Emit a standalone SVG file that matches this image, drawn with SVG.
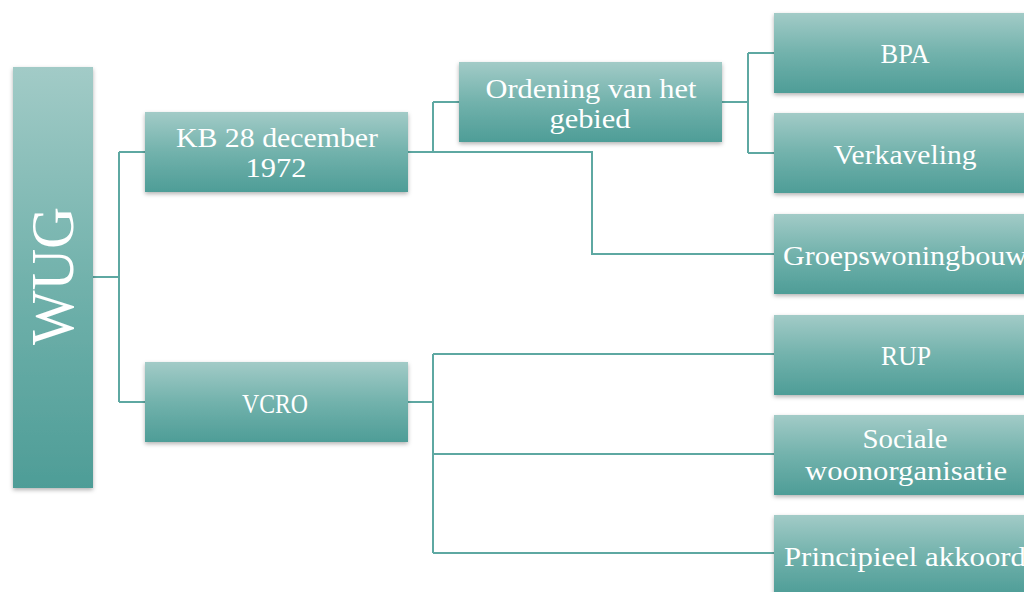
<svg xmlns="http://www.w3.org/2000/svg" width="1024" height="592" viewBox="0 0 1024 592">
  <defs>
    <linearGradient id="g" x1="0" y1="0" x2="0" y2="1">
      <stop offset="0" stop-color="#a2cbc7"/>
      <stop offset="0.5" stop-color="#72b2ac"/>
      <stop offset="1" stop-color="#4e9d97"/>
    </linearGradient>
    <filter id="sh" x="-10%" y="-10%" width="120%" height="130%">
      <feDropShadow dx="0" dy="2" stdDeviation="2" flood-color="#000" flood-opacity="0.3"/>
    </filter>
  </defs>
  <style>
    .box { fill: url(#g); filter: url(#sh); }
    .t { fill: #ffffff; font-family: "Liberation Serif", "Times New Roman", serif; font-size: 28px; text-anchor: middle; }
    .big { font-size: 62px; }
    .c { fill: none; stroke: #5ea8a2; stroke-width: 2; }
  </style>
  <rect width="1024" height="592" fill="#ffffff"/>

  <g id="connectors">
    <path class="c" d="M93 277 H119 M119 152 V402 M119 152 H145 M119 402 H145"/>
    <path class="c" d="M408 152 H433 M433 102 V152 M433 102 H459"/>
    <path class="c" d="M433 152 H592 V254 H774"/>
    <path class="c" d="M722 102 H748 M748 53 V153 M748 53 H774 M748 153 H774"/>
    <path class="c" d="M408 402 H433 M433 354 V553 M433 354 H774 M433 454 H774 M433 553 H774"/>
  </g>

  <g id="wug">
    <rect class="box" x="13" y="67" width="80" height="421"/>
    <text class="t big" transform="translate(73 276) rotate(-90)" x="0" y="0" textLength="138" lengthAdjust="spacingAndGlyphs">WUG</text>
  </g>
  <g id="kb">
    <rect class="box" x="145" y="112" width="263" height="80"/>
    <text class="t" x="277" y="147" textLength="202" lengthAdjust="spacingAndGlyphs">KB 28 december</text>
    <text class="t" x="276" y="177" textLength="61" lengthAdjust="spacingAndGlyphs">1972</text>
  </g>
  <g id="vcro">
    <rect class="box" x="145" y="362" width="263" height="80"/>
    <text class="t" x="275" y="413" textLength="66" lengthAdjust="spacingAndGlyphs">VCRO</text>
  </g>
  <g id="ordening">
    <rect class="box" x="459" y="62" width="263" height="80"/>
    <text class="t" x="591" y="98" textLength="211" lengthAdjust="spacingAndGlyphs">Ordening van het</text>
    <text class="t" x="590" y="128" textLength="81" lengthAdjust="spacingAndGlyphs">gebied</text>
  </g>
  <g id="bpa">
    <rect class="box" x="774" y="13" width="263" height="80"/>
    <text class="t" x="905" y="63" textLength="49" lengthAdjust="spacingAndGlyphs">BPA</text>
  </g>
  <g id="verkaveling">
    <rect class="box" x="774" y="113" width="263" height="80"/>
    <text class="t" x="905" y="164" textLength="143" lengthAdjust="spacingAndGlyphs">Verkaveling</text>
  </g>
  <g id="groepswoningbouw">
    <rect class="box" x="774" y="214" width="263" height="80"/>
    <text class="t" x="905" y="265" textLength="244" lengthAdjust="spacingAndGlyphs">Groepswoningbouw</text>
  </g>
  <g id="rup">
    <rect class="box" x="774" y="315" width="263" height="80"/>
    <text class="t" x="906" y="365" textLength="50" lengthAdjust="spacingAndGlyphs">RUP</text>
  </g>
  <g id="sociale">
    <rect class="box" x="774" y="415" width="263" height="80"/>
    <text class="t" x="905" y="448" textLength="85" lengthAdjust="spacingAndGlyphs">Sociale</text>
    <text class="t" x="906" y="480" textLength="202" lengthAdjust="spacingAndGlyphs">woonorganisatie</text>
  </g>
  <g id="principieel">
    <rect class="box" x="774" y="515" width="263" height="80"/>
    <text class="t" x="905" y="566" textLength="242" lengthAdjust="spacingAndGlyphs">Principieel akkoord</text>
  </g>
</svg>
